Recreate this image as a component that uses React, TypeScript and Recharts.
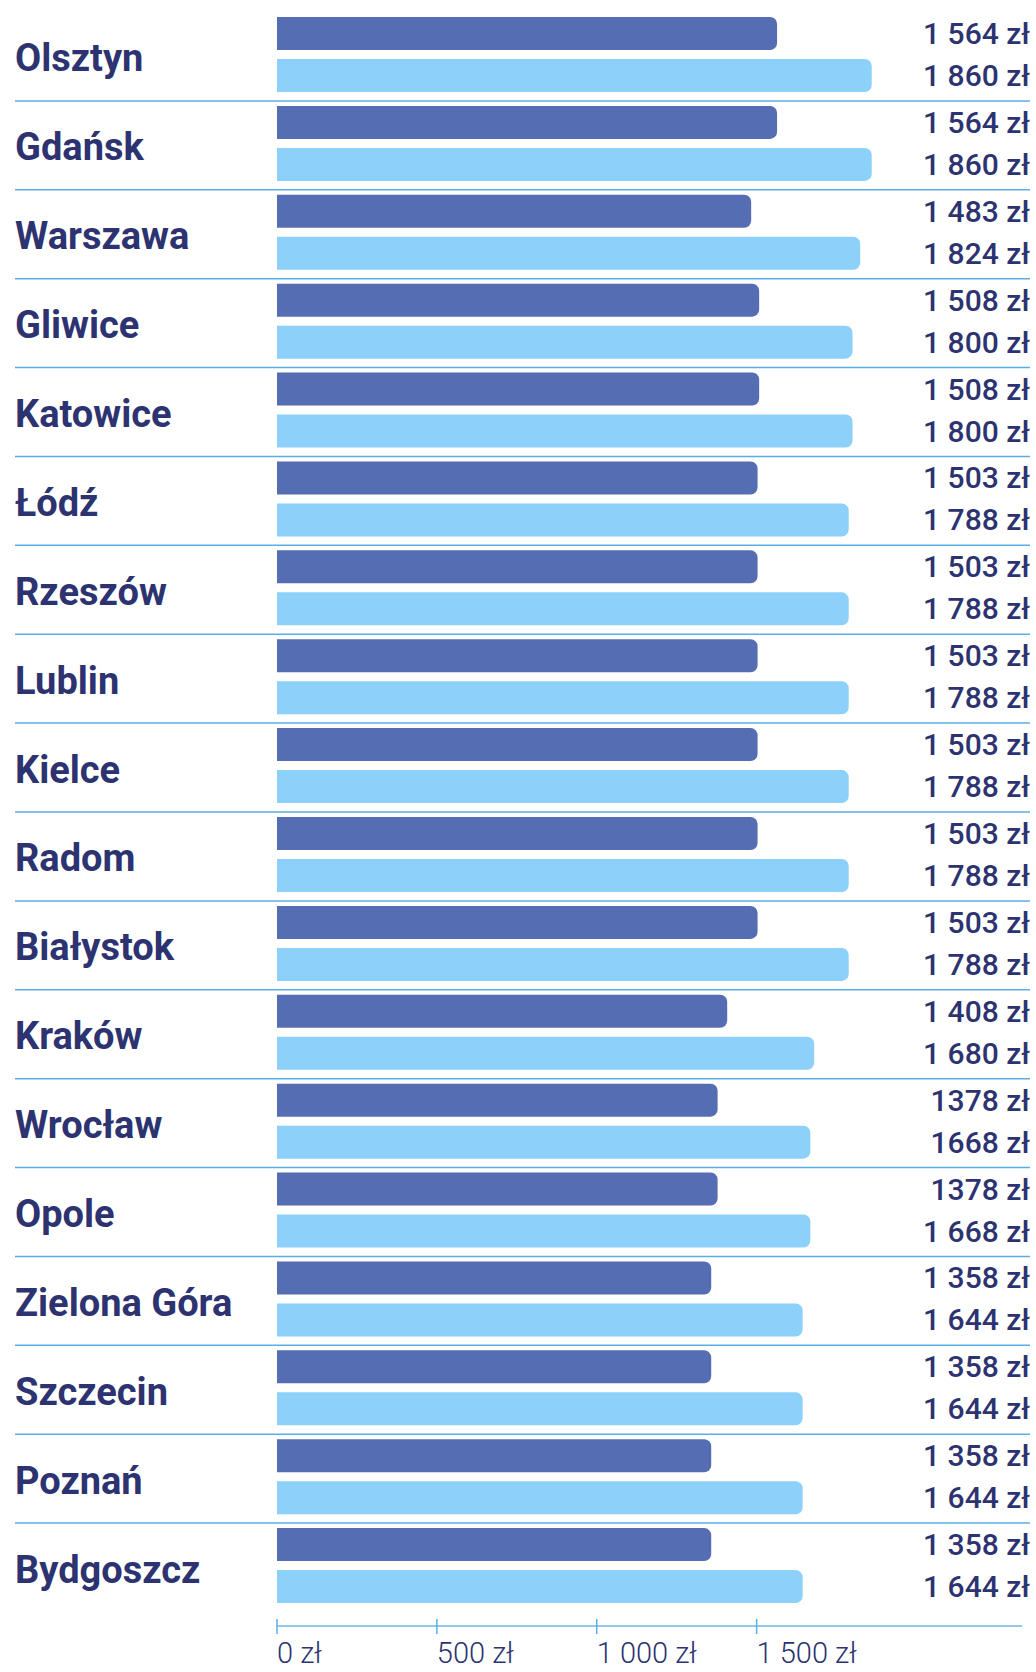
import { BarChart, Bar, XAxis, YAxis, LabelList } from "recharts";

// city rows, top to bottom
const cities = [
  "Olsztyn", "Gdańsk", "Warszawa", "Gliwice", "Katowice", "Łódź", "Rzeszów",
  "Lublin", "Kielce", "Radom", "Białystok", "Kraków", "Wrocław", "Opole",
  "Zielona Góra", "Szczecin", "Poznań", "Bydgoszcz",
];

const darkValues = [
  1564, 1564, 1483, 1508, 1508, 1503, 1503, 1503, 1503, 1503, 1503, 1408,
  1378, 1378, 1358, 1358, 1358, 1358,
];
const lightValues = [
  1860, 1860, 1824, 1800, 1800, 1788, 1788, 1788, 1788, 1788, 1788, 1680,
  1668, 1668, 1644, 1644, 1644, 1644,
];

// labels as printed (some without thousands space)
const darkLabels = [
  "1 564 zł", "1 564 zł", "1 483 zł", "1 508 zł", "1 508 zł", "1 503 zł",
  "1 503 zł", "1 503 zł", "1 503 zł", "1 503 zł", "1 503 zł", "1 408 zł",
  "1378 zł", "1378 zł", "1 358 zł", "1 358 zł", "1 358 zł", "1 358 zł",
];
const lightLabels = [
  "1 860 zł", "1 860 zł", "1 824 zł", "1 800 zł", "1 800 zł", "1 788 zł",
  "1 788 zł", "1 788 zł", "1 788 zł", "1 788 zł", "1 788 zł", "1 680 zł",
  "1668 zł", "1 668 zł", "1 644 zł", "1 644 zł", "1 644 zł", "1 644 zł",
];

const xTicks = [0, 500, 1000, 1500];
const xTickLabels = ["0 zł", "500 zł", "1 000 zł", "1 500 zł"];

const data = cities.map((city, i) => ({
  city,
  dark: darkValues[i],
  light: lightValues[i],
  darkLabel: darkLabels[i],
  lightLabel: lightLabels[i],
}));

if (typeof document !== "undefined") document.body.style.margin = "0";

const W = 1036;
const H = 1672;
const NAVY = "#2c3370";
const FONT = "Roboto, 'Noto Sans', sans-serif";

function CityTick(props: any) {
  const { y, payload, index, visibleTicksCount } = props;
  const band = 88.9;
  return (
    <g>
      <text
        x={15}
        y={y + 4}
        dominantBaseline="central"
        fill={NAVY}
        fontFamily={FONT}
        fontWeight={700}
        fontSize={38}
      >
        {payload.value}
      </text>
      {index < visibleTicksCount - 1 && (
        <line
          x1={15}
          x2={1030}
          y1={y + band / 2 + 2}
          y2={y + band / 2 + 2}
          stroke="#5aaee3"
          strokeWidth={1.5}
        />
      )}
    </g>
  );
}

function MoneyTick(props: any) {
  const { x, y, index } = props;
  return (
    <g>
      <line x1={x} x2={x} y1={y - 7} y2={y + 8} stroke="#5aaee3" strokeWidth={1.5} />
      <text
        x={x}
        y={y + 37}
        textAnchor="start"
        fill={NAVY}
        fontFamily={FONT}
        fontWeight={300}
        fontSize={29}
      >
        {xTickLabels[index]}
      </text>
    </g>
  );
}

function ValueLabel(props: any) {
  const { y, height, value } = props;
  return (
    <text
      x={W - 6}
      y={y + height / 2}
      textAnchor="end"
      dominantBaseline="central"
      fill={NAVY}
      fontFamily={FONT}
      fontWeight={500}
      fontSize={30}
    >
      {value}
    </text>
  );
}

export default function App() {
  return (
    <div style={{ width: W, height: H, background: "#fff" }}>
      <BarChart
        width={W}
        height={H}
        data={data}
        layout="vertical"
        margin={{ top: 10, right: 14, bottom: 0, left: 0 }}
        barSize={33}
        barGap={9}
      >
        <XAxis
          type="number"
          domain={[0, 2330]}
          ticks={xTicks}
          height={46}
          axisLine={{ stroke: "#8ecbec", strokeWidth: 2 }}
          tickLine={false}
          tickSize={0}
          tickMargin={0}
          tick={<MoneyTick />}
        />
        <YAxis
          type="category"
          dataKey="city"
          width={277}
          interval={0}
          axisLine={false}
          tickLine={false}
          tickSize={0}
          padding={{ top: 0, bottom: 16 }}
          tick={<CityTick />}
        />
        <Bar dataKey="dark" fill="#556db2" radius={[0, 7, 7, 0]} isAnimationActive={false}>
          <LabelList dataKey="darkLabel" content={<ValueLabel />} />
        </Bar>
        <Bar dataKey="light" fill="#8dd0f9" radius={[0, 7, 7, 0]} isAnimationActive={false}>
          <LabelList dataKey="lightLabel" content={<ValueLabel />} />
        </Bar>
      </BarChart>
    </div>
  );
}
